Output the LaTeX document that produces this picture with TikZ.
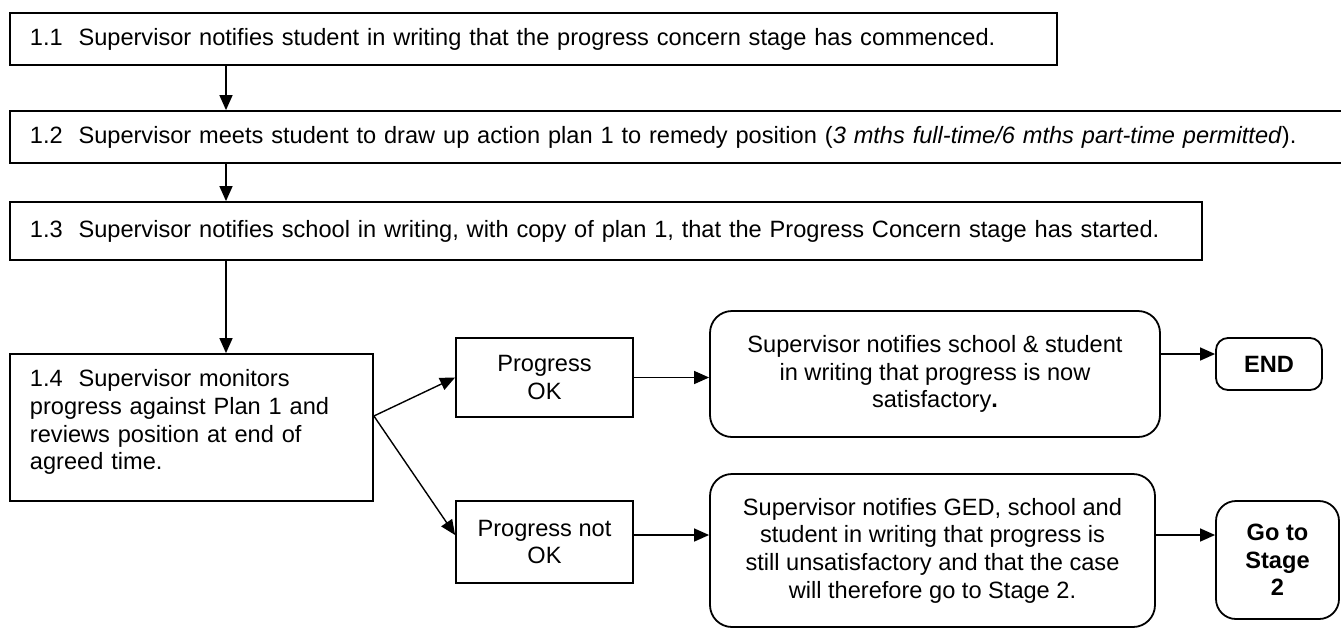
\documentclass[tikz,border=0pt]{standalone}
\usepackage{fontspec}
\setmainfont{Liberation Sans}
\usetikzlibrary{arrows.meta,positioning}
\tikzset{
    stage/.style={
        draw,
        line width=0.9pt,
        align=left,
        inner xsep=10pt,
        inner ysep=0pt,
        font=\fontsize{11.8}{13.8}\selectfont
    },
    outcome/.style={
        draw,
        line width=0.9pt,
        align=center,
        inner sep=2pt,
        font=\fontsize{11.8}{13.8}\selectfont
    },
    notice/.style={
        outcome,
        rounded corners=11pt
    },
    finish/.style={
        outcome,
        font=\fontsize{11.8}{13.8}\selectfont\bfseries
    },
    arr/.style={
        line width=0.7pt,
        -{Triangle[length=7.5pt,width=6.5pt]}
    }
}

\begin{document}
\begin{tikzpicture}[x=0.5pt,y=-0.5pt]
  \useasboundingbox (0,0) rectangle (1341,628);
  \coordinate (spine) at (226,0);

  \node[stage, text width=503.5pt, minimum height=26pt] (S1) at (533.5,39)
    {1.1~~Supervisor notifies student in writing that the progress concern stage has commenced.};
  \node[stage, text width=650pt, minimum height=26pt] (S2) at (680,137)
    {1.2~~Supervisor meets student to draw up action plan 1 to remedy position (\textit{3 mths full-time/6 mths part-time permitted}).};
  \node[stage, text width=576pt, minimum height=29pt] (S3) at (606,231)
    {1.3~~Supervisor notifies school in writing, with copy of plan 1, that the Progress Concern stage has started.};
  \node[stage, text width=161.5pt, minimum height=73.5pt] (S4) at (191.5,427.5)
    {1.4~~Supervisor monitors\\progress against Plan 1 and\\reviews position at end of\\agreed time.\\[-6pt]\mbox{}};

  \node[outcome, minimum width=88.5pt, minimum height=39.5pt] (OK) at (544.5,377.5) {Progress\\OK};
  \node[outcome, minimum width=88.5pt, minimum height=41pt] (NOK) at (544.5,542) {Progress not\\OK};

  \node[notice, minimum width=225pt, minimum height=63pt] (R1) at (935,374)
    {Supervisor notifies school \& student\\in writing that progress is now\\satisfactory\textbf{.}};
  \node[notice, minimum width=222.5pt, minimum height=76.5pt] (R2) at (932.5,550.5)
    {Supervisor notifies GED, school and\\student in writing that progress is\\still unsatisfactory and that the case\\will therefore go to Stage 2.};

  \node[finish, rounded corners=6pt, minimum width=53pt, minimum height=26pt] (E) at (1269,364) {END};
  \node[finish, rounded corners=10pt, minimum width=61.5pt, minimum height=59pt] (G) at (1277.5,560) {Go to\\Stage\\2};

  \coordinate (fork) at ([yshift=5.75pt]S4.east);
  \coordinate (nokin) at ([yshift=3.5pt]NOK.west);
  \coordinate (nokout) at ([yshift=3.5pt]NOK.east);
  \coordinate (endin) at ([yshift=5pt]E.west);
  \coordinate (goin) at ([yshift=12.5pt]G.west);

  \draw[arr] (S1.south -| spine) -- (S2.north -| spine);
  \draw[arr] (S2.south -| spine) -- (S3.north -| spine);
  \draw[arr] (S3.south -| spine) -- (S4.north -| spine);
  \draw[arr] (fork) -- (OK.west);
  \draw[arr] (fork) -- (nokin);
  \draw[arr] (OK.east) -- (OK.east -| R1.west);
  \draw[arr] (nokout) -- (nokout -| R2.west);
  \draw[arr] (endin -| R1.east) -- (endin);
  \draw[arr] (goin -| R2.east) -- (goin);
\end{tikzpicture}
\end{document}
